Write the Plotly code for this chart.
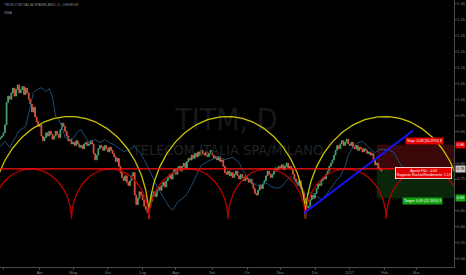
import numpy as np
import pandas as pd
import plotly.graph_objects as go

# ---------------- data ----------------
start_date = "2016-02-26"
first_open = 0.875
closes = [
    0.880, 0.885, 0.895, 0.920, 0.990, 1.010, 1.000, 1.020, 1.035, 1.010,
    1.030, 1.045, 1.020, 1.030, 1.040, 1.015, 1.035, 1.020, 1.000, 0.985,
    0.960, 0.975, 0.945, 0.930, 0.915, 0.920, 0.885, 0.870, 0.880, 0.895,
    0.885, 0.900, 0.890, 0.875, 0.885, 0.900, 0.890, 0.880, 0.905, 0.925,
    0.915, 0.900, 0.885, 0.870, 0.875, 0.860, 0.865, 0.855, 0.870, 0.860,
    0.850, 0.855, 0.845, 0.860, 0.865, 0.855, 0.860, 0.870, 0.860, 0.830,
    0.810, 0.825, 0.845, 0.855, 0.850, 0.840, 0.855, 0.845, 0.835, 0.850,
    0.840, 0.830, 0.820, 0.805, 0.815, 0.790, 0.770, 0.755, 0.745, 0.760,
    0.740, 0.730, 0.745, 0.760, 0.770, 0.700, 0.670, 0.690, 0.710, 0.700,
    0.685, 0.665, 0.655, 0.645, 0.665, 0.680, 0.700, 0.710, 0.695, 0.715,
    0.725, 0.715, 0.730, 0.740, 0.725, 0.745, 0.755, 0.765, 0.750, 0.770,
    0.780, 0.765, 0.785, 0.790, 0.775, 0.790, 0.800, 0.785, 0.805, 0.815,
    0.810, 0.825, 0.815, 0.830, 0.820, 0.835, 0.825, 0.840, 0.830, 0.825,
    0.835, 0.820, 0.830, 0.840, 0.825, 0.815, 0.820, 0.810, 0.820, 0.805,
    0.810, 0.790, 0.770, 0.765, 0.775, 0.760, 0.770, 0.755, 0.765, 0.775,
    0.760, 0.750, 0.765, 0.755, 0.745, 0.760, 0.750, 0.740, 0.750, 0.735,
    0.720, 0.705, 0.700, 0.715, 0.730, 0.720, 0.735, 0.745, 0.760, 0.775,
    0.765, 0.755, 0.765, 0.775, 0.785, 0.780, 0.790, 0.785, 0.795, 0.780,
    0.790, 0.800, 0.785, 0.790, 0.780, 0.765, 0.750, 0.740, 0.730, 0.745,
    0.720, 0.710, 0.690, 0.675, 0.660, 0.665, 0.685, 0.700, 0.690, 0.705,
    0.720, 0.735, 0.730, 0.745, 0.755, 0.750, 0.765, 0.775, 0.790, 0.800,
    0.810, 0.825, 0.840, 0.855, 0.845, 0.860, 0.870, 0.855, 0.865, 0.875,
    0.860, 0.855, 0.865, 0.850, 0.845, 0.855, 0.840, 0.850, 0.845, 0.835,
    0.845, 0.840, 0.830, 0.835, 0.825, 0.830, 0.810, 0.795, 0.800, 0.785,
    0.780, 0.775,
]

blue_dates = [
    "2016-02-26", "2016-03-02", "2016-03-07", "2016-03-10", "2016-03-15", "2016-03-21",
    "2016-03-24", "2016-03-28", "2016-03-30", "2016-04-04", "2016-04-07", "2016-04-11",
    "2016-04-13", "2016-04-15", "2016-04-19", "2016-04-21", "2016-04-25", "2016-04-28",
    "2016-05-02", "2016-05-05", "2016-05-09", "2016-05-12", "2016-05-16", "2016-05-20",
    "2016-05-25", "2016-05-30", "2016-06-02", "2016-06-07", "2016-06-10", "2016-06-15",
    "2016-06-21", "2016-06-24", "2016-06-29", "2016-07-04", "2016-07-07", "2016-07-12",
    "2016-07-15", "2016-07-21", "2016-07-26", "2016-07-28", "2016-08-02", "2016-08-05",
    "2016-08-10", "2016-08-15", "2016-08-18", "2016-08-23", "2016-08-29", "2016-09-01",
    "2016-09-07", "2016-09-13", "2016-09-20", "2016-09-26", "2016-09-28", "2016-10-03",
    "2016-10-06", "2016-10-11", "2016-10-14", "2016-10-19", "2016-10-24", "2016-10-28",
    "2016-11-02", "2016-11-07", "2016-11-10", "2016-11-15", "2016-11-18", "2016-11-23",
    "2016-11-29", "2016-12-02", "2016-12-07", "2016-12-12", "2016-12-15", "2016-12-20",
    "2016-12-23", "2016-12-28", "2016-12-30", "2017-01-04", "2017-01-09", "2017-01-12",
    "2017-01-17", "2017-01-20", "2017-01-24", "2017-01-27", "2017-02-03", "2017-02-09",
    "2017-02-13", "2017-02-16",
]
blue_prices = [
    0.852, 0.868, 0.849, 0.874, 0.902, 0.914,
    0.974, 1.021, 1.030, 1.036, 1.024, 1.033,
    1.008, 0.946, 0.936, 0.914, 0.880, 0.874,
    0.877, 0.899, 0.905, 0.880, 0.864, 0.874,
    0.864, 0.874, 0.864, 0.858, 0.846, 0.836,
    0.843, 0.852, 0.836, 0.811, 0.780, 0.749,
    0.718, 0.686, 0.661, 0.652, 0.677, 0.689,
    0.702, 0.730, 0.761, 0.793, 0.805, 0.811,
    0.820, 0.811, 0.818, 0.802, 0.780, 0.758,
    0.743, 0.730, 0.733, 0.739, 0.727, 0.721,
    0.727, 0.746, 0.758, 0.739, 0.718, 0.702,
    0.708, 0.696, 0.686, 0.699, 0.721, 0.743,
    0.758, 0.789, 0.824, 0.849, 0.864, 0.868,
    0.855, 0.839, 0.833, 0.843, 0.843, 0.833,
    0.814, 0.789,
]

yellow_cusps = ["2016-02-18", "2016-07-07", "2016-11-23", "2017-04-12"]
red_cusps = ["2016-02-18", "2016-04-29", "2016-07-07", "2016-09-15",
             "2016-11-23", "2017-02-02", "2017-04-12"]
arc_base = 0.625
yellow_apex = 0.946
red_apex = 0.782
hline_price = 0.782

entry_price = 0.78
stop_price = 0.8575
target_price = 0.69
position_start = "2017-01-25"

trend_dates = ["2016-11-22", "2017-02-27"]
trend_prices = [0.643, 0.902]

month_ticks = ["2016-03-01", "2016-04-01", "2016-05-02", "2016-06-01", "2016-07-01",
               "2016-08-01", "2016-09-01", "2016-10-03", "2016-11-01", "2016-12-01",
               "2017-01-02", "2017-02-01", "2017-03-01"]
month_labels = ["Mar", "Apr", "Mag", "Giu", "Lug", "Ago", "Set", "Ott", "Nov", "Dic",
                "2017", "Feb", "Mar"]
# 0.85 / 0.70 are hidden behind the stop / target price labels on the axis
price_ticks = [0.50, 0.55, 0.60, 0.65, 0.75, 0.80, 0.90, 0.95,
               1.00, 1.05, 1.10, 1.15, 1.20, 1.25, 1.30]

# ---------------- build ----------------
dates = pd.bdate_range(start_date, periods=len(closes))
opens = [first_open] + closes[:-1]
highs = [max(o, c) for o, c in zip(opens, closes)]
lows = [min(o, c) for o, c in zip(opens, closes)]

bdays = pd.bdate_range("2016-01-01", "2017-06-30")


def bidx(d):
    return bdays.get_loc(pd.Timestamp(d))


def to_date(v):
    k = int(np.floor(v))
    return bdays[k] + pd.Timedelta(days=float(v - k))


def arcs(cusps, base, apex, n=140):
    xs, ys = [], []
    for a, b in zip(cusps[:-1], cusps[1:]):
        ia, ib = bidx(a), bidx(b)
        t = np.linspace(np.pi, 0, n)
        m, r = (ia + ib) / 2, (ib - ia) / 2
        xs += [to_date(v) for v in m + r * np.cos(t)]
        ys += list(base + (apex - base) * np.sin(t))
    return xs, ys


FONT = "Liberation Sans Narrow, DejaVu Sans Condensed, Arial Narrow, sans-serif"
LF = "Liberation Sans, Arial, sans-serif"
fig = go.Figure()

# watermarks (below everything)
fig.add_trace(go.Scatter(x=[pd.Timestamp("2016-09-14")], y=[0.927], mode="text",
                         text=["TITM, D"], textfont=dict(size=30, color="#181818", family=FONT),
                         hoverinfo="skip", showlegend=False))
fig.add_trace(go.Scatter(x=[pd.Timestamp("2016-09-15")], y=[0.836], mode="text",
                         text=["TELECOM ITALIA SPA/MILANO"],
                         textfont=dict(size=14.5, color="#222222", family=FONT),
                         hoverinfo="skip", showlegend=False))

# displaced comparison line
fig.add_trace(go.Scatter(x=pd.to_datetime(blue_dates), y=blue_prices, mode="lines",
                         line=dict(color="#1f4d72", width=1), hoverinfo="skip", showlegend=False))

fig.add_trace(go.Candlestick(
    x=dates, open=opens, high=highs, low=lows, close=closes,
    increasing=dict(line=dict(color="#4a9e70", width=1), fillcolor="#4a9e70"),
    decreasing=dict(line=dict(color="#d9513d", width=1), fillcolor="#d9513d"),
    whiskerwidth=0, hoverinfo="skip", showlegend=False))

yx, yy = arcs(yellow_cusps, arc_base, yellow_apex)
fig.add_trace(go.Scatter(x=yx, y=yy, mode="lines", line=dict(color="#c9c400", width=1.3),
                         hoverinfo="skip", showlegend=False))
rx, ry = arcs(red_cusps, arc_base, red_apex)
fig.add_trace(go.Scatter(x=rx, y=ry, mode="lines", line=dict(color="#b80000", width=1.3),
                         hoverinfo="skip", showlegend=False))

fig.add_trace(go.Scatter(x=pd.to_datetime(trend_dates), y=trend_prices, mode="lines",
                         line=dict(color="#1515ff", width=1.8), hoverinfo="skip", showlegend=False))

# position tool boxes
fig.add_shape(type="rect", xref="x", yref="y", x0=position_start, x1="2017-04-20",
              y0=entry_price, y1=stop_price, fillcolor="#3a0808", line_width=0, layer="below")
fig.add_shape(type="rect", xref="x", yref="y", x0=position_start, x1="2017-04-20",
              y0=target_price, y1=entry_price, fillcolor="#0a260a", line_width=0, layer="below")
fig.add_shape(type="line", xref="paper", yref="y", x0=0, x1=1, y0=hline_price, y1=hline_price,
              line=dict(color="#ff1010", width=1.3))

fig.add_annotation(xref="paper", yref="y", x=0.978, xanchor="right", y=stop_price + 0.013,
                   text="Stop: 0.08 (10.29%) 8", showarrow=False,
                   font=dict(size=3.6, color="white", family=LF), bgcolor="#e00000", borderpad=1)
fig.add_annotation(xref="paper", yref="y", x=0.976, xanchor="right", y=target_price - 0.01,
                   text="Target: 0.09 (11.54%) 9", showarrow=False,
                   font=dict(size=3.6, color="white", family=LF), bgcolor="#12a012", borderpad=1)
fig.add_annotation(xref="paper", yref="y", x=0.996, xanchor="right", y=entry_price - 0.0125,
                   text="Aperto P&amp;L: -0.00<br>Rapporto Rischio/Rendimento: 1.13", showarrow=False,
                   font=dict(size=3.4, color="white", family=LF), bgcolor="#e00000",
                   bordercolor="#ffffff", borderwidth=0.8, borderpad=1)

# right axis price labels
for p, bg, fc in [(stop_price, "#e00000", "white"), (entry_price, "#c8c8c8", "#111111"),
                  (target_price, "#12a012", "white")]:
    fig.add_annotation(xref="paper", yref="y", x=1.002, y=p, xanchor="left",
                       text=f"{p:.2f}", showarrow=False,
                       font=dict(size=3.8, color=fc, family=LF), bgcolor=bg, borderpad=0.8)

# legend-like title
fig.add_annotation(xref="paper", yref="paper", x=0.004, y=0.995, xanchor="left", yanchor="top",
                   text="TELECOM ITALIA SPA/MILANO, D, CHIXEUR", showarrow=False,
                   font=dict(size=3.6, color="#8a8a8a", family=LF))
fig.add_annotation(xref="paper", yref="paper", x=0.004, y=0.968, xanchor="left", yanchor="top",
                   text="SMA", showarrow=False, font=dict(size=3.6, color="#8a8a8a", family=LF))

fig.update_layout(
    width=466, height=275,
    margin=dict(l=0, r=9, t=0, b=7),
    paper_bgcolor="#000000", plot_bgcolor="#000000",
    showlegend=False,
    xaxis=dict(
        type="date", rangeslider=dict(visible=False),
        rangebreaks=[dict(bounds=["sat", "mon"])],
        range=["2016-02-25 20:00", "2017-04-03 21:00"],
        tickvals=month_ticks, ticktext=month_labels,
        tickfont=dict(size=4, color="#808080", family=LF),
        showgrid=False, zeroline=False,
        showline=True, linecolor="#4a4a4a", linewidth=1,
        ticks="outside", ticklen=1.5, tickcolor="#4a4a4a",
    ),
    yaxis=dict(
        side="right", range=[0.4745, 1.311],
        tickvals=price_ticks, ticktext=[f"{v:.2f}" for v in price_ticks],
        tickfont=dict(size=4, color="#808080", family=LF),
        showgrid=False, zeroline=False,
        showline=True, linecolor="#4a4a4a", linewidth=1,
        ticks="outside", ticklen=1.5, tickcolor="#4a4a4a",
    ),
)

fig.write_html("out.html", config={"displayModeBar": False})
